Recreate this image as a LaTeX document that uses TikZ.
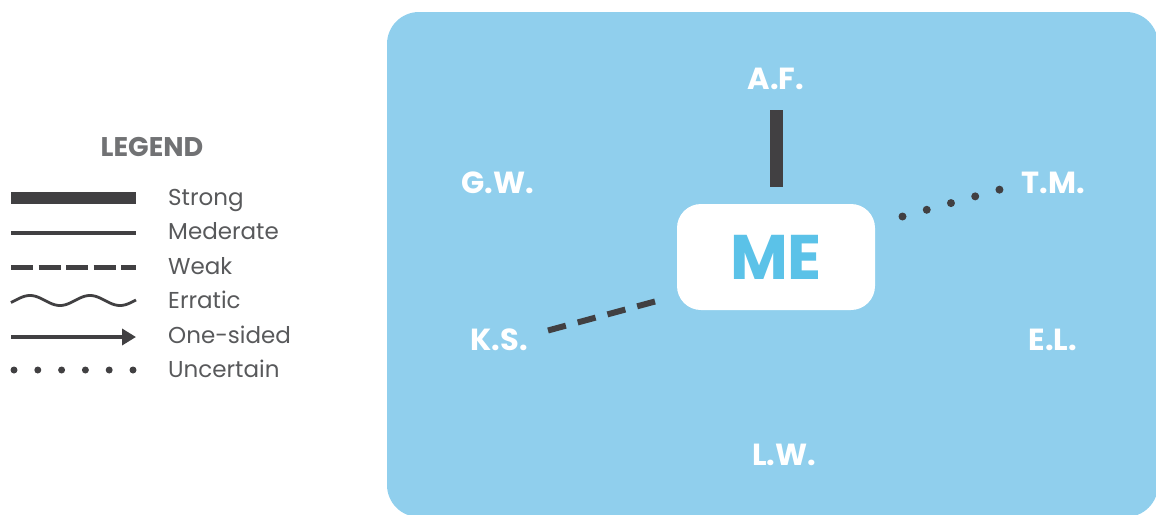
\documentclass[tikz,border=0pt]{standalone}
\usepackage{fontspec}
\setmainfont{Poppins}
\usetikzlibrary{arrows.meta}
\definecolor{panel}{HTML}{90CFED}
\definecolor{meblue}{HTML}{5BC2E8}
\definecolor{ink}{HTML}{414042}
\definecolor{legtext}{HTML}{58595B}
\tikzset{
  person/.style={text=white, font=\bfseries\fontsize{30.5}{30.5}\selectfont, inner sep=0pt, anchor=base},
  legitem/.style={text=legtext, font=\fontsize{23}{23}\selectfont, inner sep=0pt, anchor=base west},
  strongline/.style={draw=ink, line width=13pt},
  modline/.style={draw=ink, line width=4pt},
  weakline/.style={draw=ink, line width=5pt, dash pattern=on 22pt off 5.5pt},
  weakrel/.style={draw=ink, line width=6pt, dash pattern=on 18.5pt off 12.3pt},
  erratic/.style={draw=ink, line width=2.8pt},
  onesided/.style={draw=ink, line width=4pt, -{Triangle[length=14pt,width=16pt]}},
  uncertain/.style={draw=ink, line width=7pt, line cap=round, dash pattern=on 0pt off 23.8pt},
  uncertainrel/.style={draw=ink, line width=8pt, line cap=round, dash pattern=on 0pt off 25.15pt},
}
\begin{document}
\begin{tikzpicture}[x=1pt,y=-1pt]
\useasboundingbox (0,0) rectangle (1156,514);
% panel
\fill[panel, rounded corners=32pt] (387,12) rectangle (1158,517);
% ME
\node[fill=white, rounded corners=24pt, minimum width=198pt, minimum height=106pt, inner sep=0pt,
      text=meblue, font=\bfseries\fontsize{63}{63}\selectfont] (me) at (776,257) {ME};
% persons
\node[person] (af) at (776,89) {A.F.};
\node[person] (gw) at (498,193) {G.W.};
\node[person] (tm) at (1053,193) {T.M.};
\node[person] (ks) at (499,350) {K.S.};
\node[person] (el) at (1053,350) {E.L.};
\node[person] (lw) at (784,465) {L.W.};
% relations
\draw[strongline, shorten <=17pt, shorten >=21pt] (me.north) -- (af.north |- af.base);
\coordinate (tmA) at (902.5,216.5);
\coordinate (tmB) at (1000,189.5);
\draw[uncertainrel] (tmA) -- (tmB);
\coordinate (ksA) at (548,330.5);
\coordinate (ksB) at (655,301.5);
\draw[weakrel] (ksA) -- (ksB);
% legend
\node[text=legtext!85!white, font=\bfseries\fontsize{27}{27}\selectfont, inner sep=0pt, anchor=base] (legend) at (152,156) {LEGEND};
\coordinate (l1a) at (11,198); \coordinate (l1b) at (136,198);
\draw[strongline, line width=12pt] (l1a) -- (l1b);
\node[legitem] (t1) at (168,205) {Strong};
\coordinate (l2a) at (11,232.5); \coordinate (l2b) at (136,232.5);
\draw[modline] (l2a) -- (l2b);
\node[legitem] (t2) at (168,239.5) {Mederate};
\coordinate (l3a) at (11,267); \coordinate (l3b) at (136,267);
\draw[weakline] (l3a) -- (l3b);
\node[legitem] (t3) at (168,274) {Weak};
\draw[erratic] plot[domain=11:136, samples=80, smooth] (\x, {300.5 - 5*sin(6*(\x-15))});
\node[legitem] (t4) at (168,308) {Erratic};
\coordinate (l5a) at (11,337); \coordinate (l5b) at (136,337);
\draw[onesided] (l5a) -- (l5b);
\node[legitem] (t5) at (168,343.5) {One-sided};
\coordinate (l6a) at (14,370); \coordinate (l6b) at (133.2,370);
\draw[uncertain] (l6a) -- (l6b);
\node[legitem] (t6) at (168,377.5) {Uncertain};
\end{tikzpicture}
\end{document}
